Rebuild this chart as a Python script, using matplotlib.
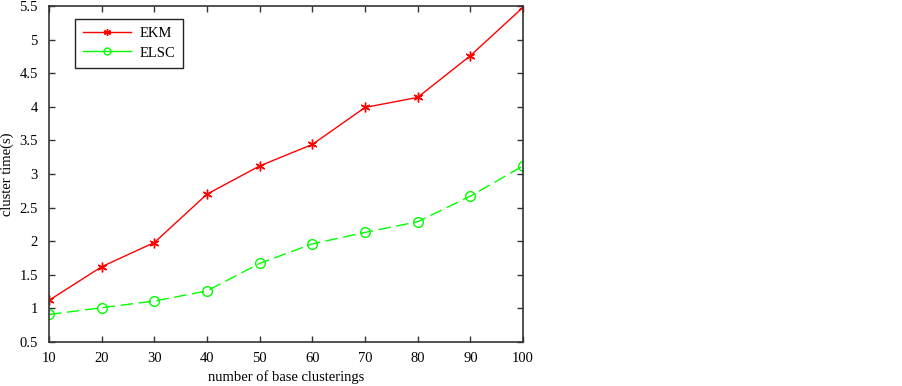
import matplotlib
matplotlib.use("Agg")
import matplotlib.pyplot as plt
from matplotlib.lines import Line2D

x = [10, 20, 30, 40, 50, 60, 70, 80, 90, 100]
ekm = [1.12, 1.62, 1.98, 2.70, 3.12, 3.44, 3.99, 4.14, 4.76, 5.48]
elsc = [0.91, 1.01, 1.11, 1.26, 1.67, 1.96, 2.13, 2.29, 2.67, 3.12]
xticks = [10, 20, 30, 40, 50, 60, 70, 80, 90, 100]
yticks = [0.5, 1, 1.5, 2, 2.5, 3, 3.5, 4, 4.5, 5, 5.5]
ytick_labels = ['0.5', '1', '1.5', '2', '2.5', '3', '3.5', '4', '4.5', '5', '5.5']

plt.rcParams['font.family'] = ['Liberation Serif', 'DejaVu Serif']
fig = plt.figure(figsize=(9.03, 3.86), dpi=100)
ax = fig.add_axes([49/903, 1-342/386, (523-49)/903, (342-6)/386])

ax.plot(x, ekm, color='#ff0000', lw=1, marker=(6, 2, 0), ms=7, mew=1, label='EKM')
ax.plot(x, elsc, color='#00ff00', lw=1, ls=(0, (9, 4)), marker='o', ms=7,
        mfc='none', mec='#00ff00', mew=1, label='ELSC')

ax.set_xlim(10, 100)
ax.set_ylim(0.5, 5.5)
ax.set_xticks(xticks)
ax.set_yticks(yticks)
ax.set_yticklabels(ytick_labels)
ax.tick_params(direction='in', top=True, right=True, labelsize=10.5, length=4, width=1,
               color='#333333')
ax.tick_params(axis='x', pad=7)
ax.tick_params(axis='y', pad=8)
for s in ax.spines.values():
    s.set_linewidth(1.2)
    s.set_color('#333333')
ax.set_xlabel('number of base clusterings', fontsize=10.5, labelpad=4)
ax.set_ylabel('cluster time(s)', fontsize=10.5)
ax.yaxis.set_label_coords(-0.074, 0.5)

handles = [Line2D([], [], color='#ff0000', lw=1, marker=(6, 2, 0), ms=5, mew=1),
           Line2D([], [], color='#00ff00', lw=1, marker='o', ms=5, mfc='none',
                  mec='#00ff00', mew=1)]
leg = ax.legend(handles, ['EKM', 'ELSC'], loc='upper left',
                bbox_to_anchor=(26/474, (342-19)/336), fontsize=10.5, frameon=True,
                fancybox=False, edgecolor='#222222', framealpha=1, handlelength=3.3,
                handletextpad=0.55, borderpad=0.55, labelspacing=0.42, borderaxespad=0)
leg.get_frame().set_linewidth(1)

fig.savefig('out.png', dpi=100)
